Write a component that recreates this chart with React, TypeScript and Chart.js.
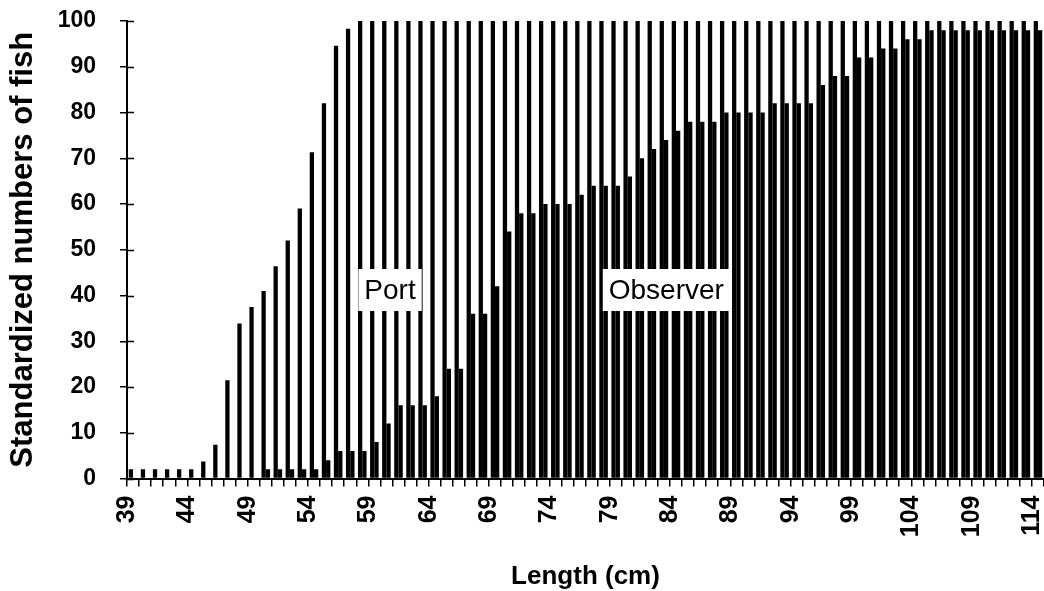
import { useEffect, useRef } from "react";
import { Chart, registerables } from "chart.js";

Chart.register(...registerables);

// Fish length classes (cm)
const lengthsCm = [
  "39", "40", "41", "42", "43", "44", "45", "46", "47", "48",
  "49", "50", "51", "52", "53", "54", "55", "56", "57", "58",
  "59", "60", "61", "62", "63", "64", "65", "66", "67", "68",
  "69", "70", "71", "72", "73", "74", "75", "76", "77", "78",
  "79", "80", "81", "82", "83", "84", "85", "86", "87", "88",
  "89", "90", "91", "92", "93", "94", "95", "96", "97", "98",
  "99", "100", "101", "102", "103", "104", "105", "106", "107", "108",
  "109", "110", "111", "112", "113", "114",
];

// Port sampling, standardized numbers of fish
const portCounts = [
  2, 2, 2, 2, 2, 2, 3.7, 7.4, 21.5, 33.9,
  37.5, 41, 46.4, 52, 59, 71.3, 82, 94.6, 98.3, 100,
  100, 100, 100, 100, 100, 100, 100, 100, 100, 100,
  100, 100, 100, 100, 100, 100, 100, 100, 100, 100,
  100, 100, 100, 100, 100, 100, 100, 100, 100, 100,
  100, 100, 100, 100, 100, 100, 100, 100, 100, 100,
  100, 100, 100, 100, 100, 100, 100, 100, 100, 100,
  100, 100, 100, 100, 100, 100,
];

// Observer sampling, standardized numbers of fish
const observerCounts = [
  0, 0, 0, 0, 0, 0, 0, 0, 0, 0,
  0, 2, 2, 2, 2, 2, 4, 6, 6, 6,
  8, 12, 16, 16, 16, 18, 24, 24, 36, 36,
  42, 54, 58, 58, 60, 60, 60, 62, 64, 64,
  64, 66, 70, 72, 74, 76, 78, 78, 78, 80,
  80, 80, 80, 82, 82, 82, 82, 86, 88, 88,
  92, 92, 94, 94, 96, 96, 98, 98, 98, 98,
  98, 98, 98, 98, 98, 98,
];

const FONT = "'Liberation Sans', Arial, Helvetica, sans-serif";

// White boxed series names placed inside the bars
const seriesTags = [
  { text: "Port", at: "60", shift: 0.3, value: 41.2 },
  { text: "Observer", at: "83", shift: 0.2, value: 41.2 },
];

const tagPlugin = {
  id: "seriesTags",
  afterDatasetsDraw(chart: any) {
    const { ctx, scales } = chart;
    ctx.save();
    ctx.font = `28px ${FONT}`;
    ctx.textAlign = "center";
    ctx.textBaseline = "middle";
    for (const tag of seriesTags) {
      const idx = lengthsCm.indexOf(tag.at) + tag.shift;
      const cx = scales.x.getPixelForValue(idx);
      const cy = scales.y.getPixelForValue(tag.value);
      const w = ctx.measureText(tag.text).width + 12;
      const h = 42;
      ctx.fillStyle = "#ffffff";
      ctx.fillRect(cx - w / 2, cy - h / 2, w, h);
      ctx.fillStyle = "#000000";
      ctx.fillText(tag.text, cx, cy + 1);
    }
    ctx.restore();
  },
};

// Short tick marks on the inner side of the value axis
const innerTicksPlugin = {
  id: "innerTicks",
  afterDraw(chart: any) {
    const { ctx, scales, chartArea } = chart;
    ctx.save();
    ctx.strokeStyle = "#000000";
    ctx.lineWidth = 1.5;
    for (const t of scales.y.ticks) {
      const y = Math.round(scales.y.getPixelForValue(t.value)) + 0.5;
      ctx.beginPath();
      ctx.moveTo(chartArea.left, y);
      ctx.lineTo(chartArea.left + 7, y);
      ctx.stroke();
    }
    ctx.restore();
  },
};

export default function App() {
  const canvasRef = useRef<HTMLCanvasElement | null>(null);

  useEffect(() => {
    if (!canvasRef.current) return;
    const chart = new Chart(canvasRef.current, {
      type: "bar",
      data: {
        labels: lengthsCm,
        datasets: [
          {
            label: "Port",
            data: portCounts,
            backgroundColor: "#000000",
            borderWidth: 0,
            categoryPercentage: 0.71,
            barPercentage: 1.0,
          },
          {
            label: "Observer",
            data: observerCounts,
            backgroundColor: "#000000",
            borderWidth: 0,
            categoryPercentage: 0.71,
            barPercentage: 1.0,
          },
        ],
      },
      options: {
        animation: false,
        responsive: false,
        devicePixelRatio: 1,
        layout: { padding: { top: 21, right: 0, left: 0, bottom: 0 } },
        plugins: {
          legend: { display: false },
          tooltip: { enabled: false },
        },
        scales: {
          x: {
            grid: {
              display: true,
              drawOnChartArea: false,
              drawTicks: true,
              tickLength: 8,
              color: "#000000",
              lineWidth: 1.5,
            },
            border: { display: true, color: "#000000", width: 2 },
            ticks: {
              autoSkip: false,
              minRotation: 90,
              maxRotation: 90,
              padding: 9,
              labelOffset: -6,
              color: "#000000",
              font: { family: FONT, size: 25, weight: "bold" },
              callback: (_v: any, i: number) => (i % 5 === 0 ? lengthsCm[i] : ""),
            },
            title: {
              display: true,
              text: "Length (cm)",
              color: "#000000",
              font: { family: FONT, size: 26, weight: "bold", lineHeight: 1 },
              padding: { top: 0, bottom: 1 },
            },
            afterFit: (scale: any) => {
              scale.height = 112.5;
              scale.paddingLeft = 0;
              scale.paddingRight = 0;
            },
          },
          y: {
            min: 0,
            max: 100,
            grid: {
              display: true,
              drawOnChartArea: false,
              drawTicks: true,
              tickLength: 7,
              color: "#000000",
              lineWidth: 1.5,
            },
            border: { display: true, color: "#000000", width: 2 },
            ticks: {
              stepSize: 10,
              padding: 24,
              color: "#000000",
              font: { family: FONT, size: 23, weight: "bold" },
            },
            title: {
              display: true,
              text: "Standardized numbers of fish",
              color: "#000000",
              font: { family: FONT, size: 31, weight: "bold", lineHeight: 1.2 },
              padding: { top: 5, bottom: 0 },
            },
            afterFit: (scale: any) => {
              scale.width = 127;
              scale.paddingTop = 0;
              scale.paddingBottom = 0;
            },
          },
        },
      },
      plugins: [tagPlugin, innerTicksPlugin],
    });
    return () => chart.destroy();
  }, []);

  return (
    <div style={{ position: "absolute", left: 0, top: 0, width: 1044, height: 591, background: "#ffffff" }}>
      <canvas ref={canvasRef} width={1044} height={591} style={{ display: "block" }} />
    </div>
  );
}
